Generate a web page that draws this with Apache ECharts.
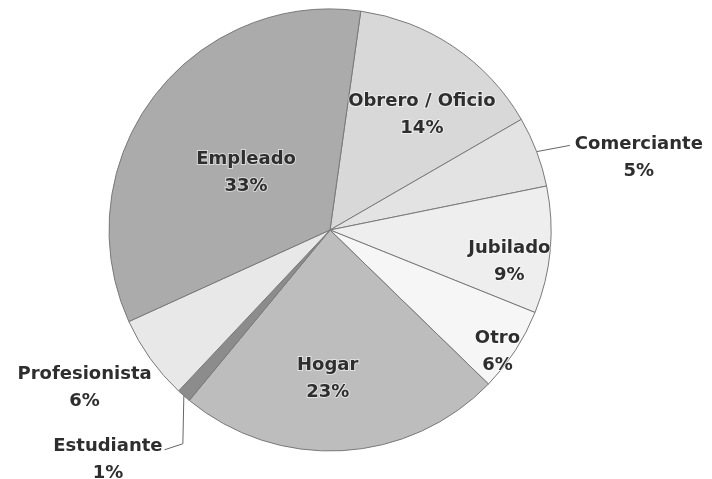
<!DOCTYPE html>
<html>
<head>
<meta charset="utf-8">
<script src="https://cdn.jsdelivr.net/npm/echarts@6/dist/echarts.min.js"></script>
<style>
html,body{margin:0;padding:0;background:#fff;}
#chart{width:712px;height:479px;}
</style>
</head>
<body>
<div id="chart"></div>
<script>
// Data (clockwise from the top)
var categories = ['Obrero / Oficio', 'Comerciante', 'Jubilado', 'Otro', 'Hogar', 'Estudiante', 'Profesionista', 'Empleado'];
var values = [14, 5, 9, 6, 23, 1, 6, 33];

// Styles
var sliceColors = {
  'Obrero / Oficio': '#d8d8d8',
  'Comerciante': '#e3e3e3',
  'Jubilado': '#eeeeee',
  'Otro': '#f6f6f6',
  'Hogar': '#bdbdbd',
  'Estudiante': '#8c8c8c',
  'Profesionista': '#e8e8e8',
  'Empleado': '#ababab'
};
var outsideNames = ['Comerciante', 'Estudiante', 'Profesionista'];
// inside label radial fraction of radius
var insideFrac = {
  'Obrero / Oficio': 0.74,
  'Jubilado': 0.82,
  'Otro': 0.88,
  'Hogar': 0.62,
  'Empleado': 0.50
};
// extra nudges for inside labels (px)
var insideNudge = {
  'Obrero / Oficio': [-2, 24],
  'Jubilado': [-6, 15],
  'Otro': [0, 13],
  'Hogar': [-10, 8],
  'Empleado': [7, 11]
};
// outside labels: offset of label centre from its default anchor (px)
var outsideOffset = {
  'Comerciante': [75, 10],
  'Profesionista': [-40, 22],
  'Estudiante': [-52, 55]
};

var CX = 330, CY = 230, R = 221;

var chart = echarts.init(document.getElementById('chart'), null, {renderer: 'canvas'});

var data = categories.map(function (name, i) {
  var isOut = outsideNames.indexOf(name) >= 0;
  return {
    name: name,
    value: values[i],
    itemStyle: {color: sliceColors[name]},
    label: {position: isOut ? 'outside' : 'inside'},
    labelLine: {show: isOut && name !== 'Profesionista'}
  };
});

chart.setOption({
  backgroundColor: '#ffffff',
  animation: false,
  series: [{
    type: 'pie',
    center: [CX, CY],
    radius: [0, R],
    startAngle: 82,
    clockwise: true,
    avoidLabelOverlap: false,
    data: data,
    itemStyle: {borderColor: '#7a7a7a', borderWidth: 1},
    label: {
      formatter: function (p) { return p.name + '\n' + p.value + '%'; },
      fontFamily: 'DejaVu Sans, sans-serif',
      fontWeight: 'bold',
      fontSize: 18,
      lineHeight: 27,
      color: '#2e2e2e',
      align: 'center',
      textBorderColor: 'rgba(255,255,255,0.55)',
      textBorderWidth: 2
    },
    labelLine: {
      length: 12,
      length2: 12,
      lineStyle: {color: '#666666', width: 1}
    },
    labelLayout: function (params) {
      var name = categories[params.dataIndex];
      var r = params.labelRect;
      var lx = r.x + r.width / 2, ly = r.y + r.height / 2;
      if (insideFrac[name] !== undefined) {
        var k = 2 * insideFrac[name] - 1;
        var n = insideNudge[name];
        return {
          x: lx + (lx - CX) * k + n[0],
          y: ly + (ly - CY) * k + n[1],
          align: 'center', verticalAlign: 'middle'
        };
      }
      var off = outsideOffset[name];
      var rightSide = r.x + r.width / 2 > CX;
      var ax = rightSide ? r.x : r.x + r.width;
      var tx = ax + off[0], ty = ly + off[1];
      var w = r.width;
      var res = {x: tx, y: ty, align: 'center', verticalAlign: 'middle'};
      var pts = params.labelLinePoints;
      if (pts && pts.length) {
        var p0 = pts[0];
        if (name === 'Comerciante') {
          res.labelLinePoints = [p0, [tx - w / 2 - 4, ty - 12], [tx - w / 2 - 4, ty - 12]];
        } else if (name === 'Estudiante') {
          res.labelLinePoints = [p0, [p0[0] - 1, ty - 16], [tx + w / 2 + 1, ty - 10]];
        }
      }
      return res;
    }
  }]
});
</script>
</body>
</html>
